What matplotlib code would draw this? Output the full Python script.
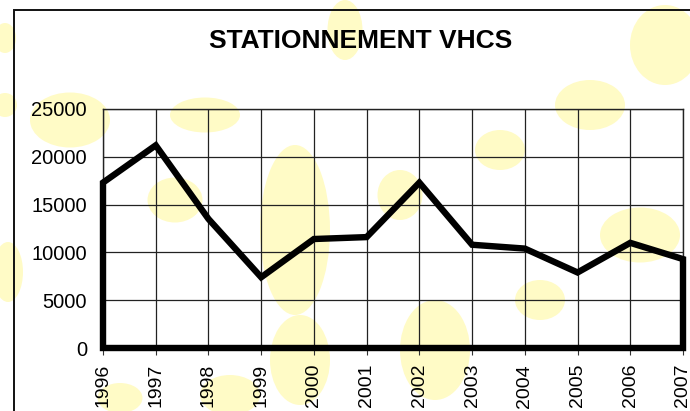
import matplotlib
matplotlib.use("Agg")
import matplotlib.pyplot as plt
from matplotlib.patches import Ellipse, Rectangle

plt.rcParams['font.family'] = ['Liberation Sans', 'DejaVu Sans']

title = "STATIONNEMENT VHCS"
years = ["1996", "1997", "1998", "1999", "2000", "2001", "2002",
         "2003", "2004", "2005", "2006", "2007"]
values = [17300, 21200, 13500, 7400, 11400, 11600, 17300,
          10800, 10400, 7900, 11000, 9300]
yticks = [0, 5000, 10000, 15000, 20000, 25000]

W, H = 690, 411
fig = plt.figure(figsize=(W / 100, H / 100), dpi=100)
fig.patch.set_facecolor('white')

# decorative pale yellow background blobs (pixel centres, sizes)
blob_color = '#FFFBC6'
blobs = [(5, 38, 22, 30), (5, 105, 24, 24), (8, 272, 30, 60),
         (70, 120, 80, 55), (175, 200, 55, 45), (205, 115, 70, 35),
         (295, 230, 70, 170), (300, 360, 60, 90), (345, 30, 35, 60),
         (590, 105, 70, 50), (665, 45, 70, 80), (640, 235, 80, 55),
         (435, 350, 70, 100), (230, 395, 60, 40), (120, 398, 45, 30),
         (400, 195, 45, 50), (500, 150, 50, 40), (540, 300, 50, 40)]
for (cx, cy, w, h) in blobs:
    e = Ellipse((cx / W, 1 - cy / H), w / W, h / H, transform=fig.transFigure,
                facecolor=blob_color, edgecolor='none', zorder=-5)
    fig.add_artist(e)

# chart border
border = Rectangle((14 / W, -0.1), 1.2, 1 - 10 / H + 0.1, transform=fig.transFigure,
                   facecolor='none', edgecolor='#111111', linewidth=1.4, zorder=-1)
fig.add_artist(border)

ax = fig.add_axes([103 / W, 1 - 348 / H, 580 / W, 239 / H])
ax.set_facecolor('none')

x = list(range(len(years)))
ax.fill_between(x, values, 0, facecolor='none', edgecolor='black',
                linewidth=4.6, joinstyle='miter', zorder=5, clip_on=False)

ax.set_xlim(0, len(years) - 1)
ax.set_ylim(0, 25000)
ax.set_xticks(x)
ax.set_xticklabels(years, rotation=90, fontsize=14)
ax.set_yticks(yticks)
ax.set_yticklabels([str(v) for v in yticks], fontsize=14.5)
ax.tick_params(axis='x', direction='out', length=5, width=0.8, pad=6.5, color='#333333')
ax.tick_params(axis='y', length=0, pad=11.5)
ax.grid(True, color='#222222', linewidth=0.9)
ax.set_axisbelow(True)
for s in ax.spines.values():
    s.set_color('#222222')
    s.set_linewidth(1.0)

fig.text(361 / W, 1 - 41 / H, title, ha='center', va='center',
         fontsize=19, fontweight='bold')

fig.savefig('out.png', dpi=100)
